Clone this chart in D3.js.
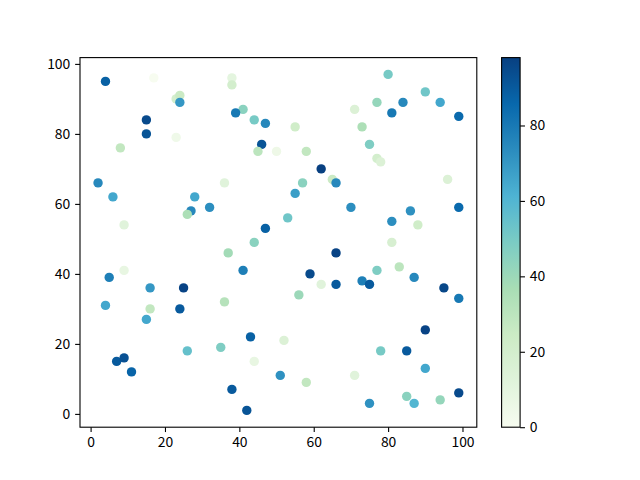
<!DOCTYPE html>
<html><head><meta charset="utf-8">
<script src="https://cdn.jsdelivr.net/npm/d3@7"></script>
<style>body{margin:0;background:#fff}svg{display:block}text{font-family:"Noto Sans CJK SC","DejaVu Sans",sans-serif;font-size:13.9px;fill:#000}</style>
</head><body><svg id="c" width="640" height="480"></svg>
<script>
const xVals = [4,17,38,38,23,24,24,41,39,44,47,15,15,23,46,45,50,8,2,6,36,28,27,26,32,9,47,44,
  80,90,77,84,94,81,99,71,55,73,58,75,77,78,62,65,66,57,55,96,53,70,86,99,81,88,81,
  37,41,9,5,16,25,4,16,24,15,36,43,35,26,44,7,9,11,51,38,42,
  66,83,59,77,87,62,66,73,75,95,99,56,90,52,78,85,90,58,71,85,87,75,94,99];
const yVals = [95,96,96,94,90,91,89,87,86,84,83,84,80,79,77,75,75,76,66,62,66,62,58,57,59,54,53,49,
  97,92,89,89,89,86,85,87,82,82,75,77,73,72,70,67,66,66,63,67,56,59,58,59,55,54,49,
  46,41,41,39,36,36,31,30,30,27,32,22,19,18,15,15,16,12,11,7,1,
  46,42,40,41,39,37,37,38,37,36,33,34,24,21,18,18,13,9,11,5,3,3,4,6];
const cVals = [88,0,10,20,20,25,70,45,80,50,75,95,92,4,92,30,5,28,75,65,12,65,75,35,73,12,88,45,
  50,52,42,75,65,80,85,15,22,35,28,48,20,15,98,25,75,45,68,15,52,73,72,85,73,22,18,
  38,78,8,78,70,97,65,28,90,65,32,88,48,55,8,90,93,87,72,90,92,
  97,30,95,48,75,12,90,78,90,96,80,40,97,15,50,90,65,28,12,45,60,72,42,95];
const axisTicks = [0,20,40,60,80,100];
const cbarTicks = [0,20,40,60,80];
const gnbu = ["#f7fcf0","#e0f3db","#ccebc5","#a8ddb5","#7bccc4","#4eb3d3","#2b8cbe","#0868ac","#084081"];

const svg = d3.select("#c");
const L=80, R=476.8, T=57.6, B=427.2;
const x = d3.scaleLinear().domain([-2.85,103.85]).range([L,R]);
const y = d3.scaleLinear().domain([-3.8,101.8]).range([B,T]);
const cExt = d3.extent(cVals);
const cmap = d3.scaleLinear().domain(gnbu.map((d,i)=>cExt[0]+(cExt[1]-cExt[0])*i/(gnbu.length-1))).range(gnbu).interpolate(d3.interpolateRgb).clamp(true);

const data = xVals.map((d,i)=>({x:d,y:yVals[i],c:cVals[i]}));
svg.append("g").selectAll("circle").data(data).join("circle")
  .attr("cx",d=>x(d.x)).attr("cy",d=>y(d.y)).attr("r",4.7).attr("fill",d=>cmap(d.c));

const tl=4.86, pad=4.86;
const xa = svg.append("g").attr("transform",`translate(0,${B})`).call(d3.axisBottom(x).tickValues(axisTicks).tickSize(tl).tickPadding(pad).tickSizeOuter(0));
const ya = svg.append("g").attr("transform",`translate(${L},0)`).call(d3.axisLeft(y).tickValues(axisTicks).tickSize(tl).tickPadding(pad).tickSizeOuter(0));
[xa,ya].forEach(a=>{a.select(".domain").remove();a.selectAll("line").attr("stroke","#000").attr("stroke-width",1.1);a.selectAll("text").attr("font-size",null).attr("font-family",null).style("fill","#000");});
svg.append("rect").attr("x",L).attr("y",T).attr("width",R-L).attr("height",B-T).attr("fill","none").attr("stroke","#000").attr("stroke-width",1.1);

// colorbar
const cbL=501.6, cbW=18.5;
const cy = d3.scaleLinear().domain(cExt).range([B,T]);
const grad = svg.append("defs").append("linearGradient").attr("id","g").attr("x1",0).attr("y1",1).attr("x2",0).attr("y2",0);
gnbu.forEach((col,i)=>grad.append("stop").attr("offset",i/(gnbu.length-1)).attr("stop-color",col));
svg.append("rect").attr("x",cbL).attr("y",T).attr("width",cbW).attr("height",B-T).attr("fill","url(#g)").attr("stroke","#000").attr("stroke-width",1.1);
const ca = svg.append("g").attr("transform",`translate(${cbL+cbW},0)`).call(d3.axisRight(cy).tickValues(cbarTicks).tickSize(tl).tickPadding(pad).tickSizeOuter(0));
ca.select(".domain").remove();ca.selectAll("line").attr("stroke","#000").attr("stroke-width",1.1);
ca.selectAll("text").attr("font-size",null).attr("font-family",null).style("fill","#000");
</script></body></html>
